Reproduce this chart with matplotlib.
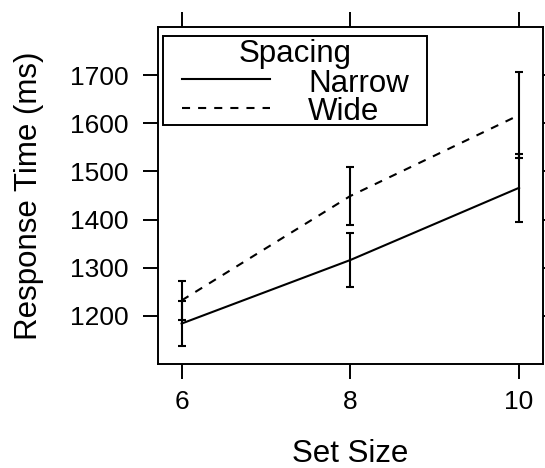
import matplotlib
matplotlib.use("Agg")
import matplotlib.pyplot as plt
import numpy as np
from matplotlib.lines import Line2D
from matplotlib.patches import Rectangle

plt.rcParams['font.family'] = ['Liberation Sans', 'DejaVu Sans']
plt.rcParams['lines.scale_dashes'] = False

# data
set_size = [6, 8, 10]
narrow_mean = [1184, 1316, 1466]
narrow_err = [46, 57, 71]
wide_mean = [1232, 1449, 1617]
wide_err = [41, 61, 90]
series_names = ["Narrow", "Wide"]
yticks = [1200, 1300, 1400, 1500, 1600, 1700]

W, H = 545, 468
fig = plt.figure(figsize=(W / 100, H / 100), dpi=100)
ax = fig.add_axes([158 / W, 1 - 364 / H, (542.7 - 158) / W, (364 - 27) / H])

lw = 1.5
dash = (0, (5.8, 5.8))
ax.errorbar(set_size, narrow_mean, yerr=narrow_err, color='black', lw=lw,
            elinewidth=lw, capsize=2.6, capthick=lw)
ax.errorbar(set_size, wide_mean, yerr=wide_err, color='black', lw=lw,
            ls=dash, elinewidth=lw, capsize=2.6, capthick=lw)

ax.set_xlim(5.72, 10.28)
ax.set_ylim(1100, 1800)
ax.set_xticks(set_size)
ax.set_yticks(yticks)
ax.tick_params(direction='out', length=10.8, width=1.4, labelsize=19,
               top=True, right=True, pad=10.5)
ax.tick_params(axis='x', pad=8)
for s in ax.spines.values():
    s.set_linewidth(1.4)

ax.set_xlabel("Set Size", fontsize=22.5)
ax.set_ylabel("Response Time (ms)", fontsize=22.5)
ax.xaxis.set_label_coords(0.5, -(438.7 - 364) / 337)
ax.yaxis.set_label_coords((43.6 - 158) / 384.7, 0.5)

# key, drawn in figure pixels
def fx(x):
    return x / W

def fy(y):
    return 1 - y / H

fig.add_artist(Rectangle((fx(163.3), fy(125.3)), (426.7 - 163.3) / W,
                         (125.3 - 35.7) / H, transform=fig.transFigure,
                         fill=False, lw=1.4, ec='black'))
fig.text(fx(295), fy(62), "Spacing", fontsize=22.5, ha='center', va='baseline')
styles = ['-', dash]
line_y = [79, 108]
text_y = [91.5, 120.5]
for name, st, ly, ty in zip(series_names, styles, line_y, text_y):
    fig.add_artist(Line2D([fx(181.7), fx(270)], [fy(ly), fy(ly)],
                          transform=fig.transFigure, color='black', lw=lw, ls=st))
    fig.text(fx(308), fy(ty), name, fontsize=22.5, ha='left', va='baseline')

fig.savefig("out.png", dpi=100)
